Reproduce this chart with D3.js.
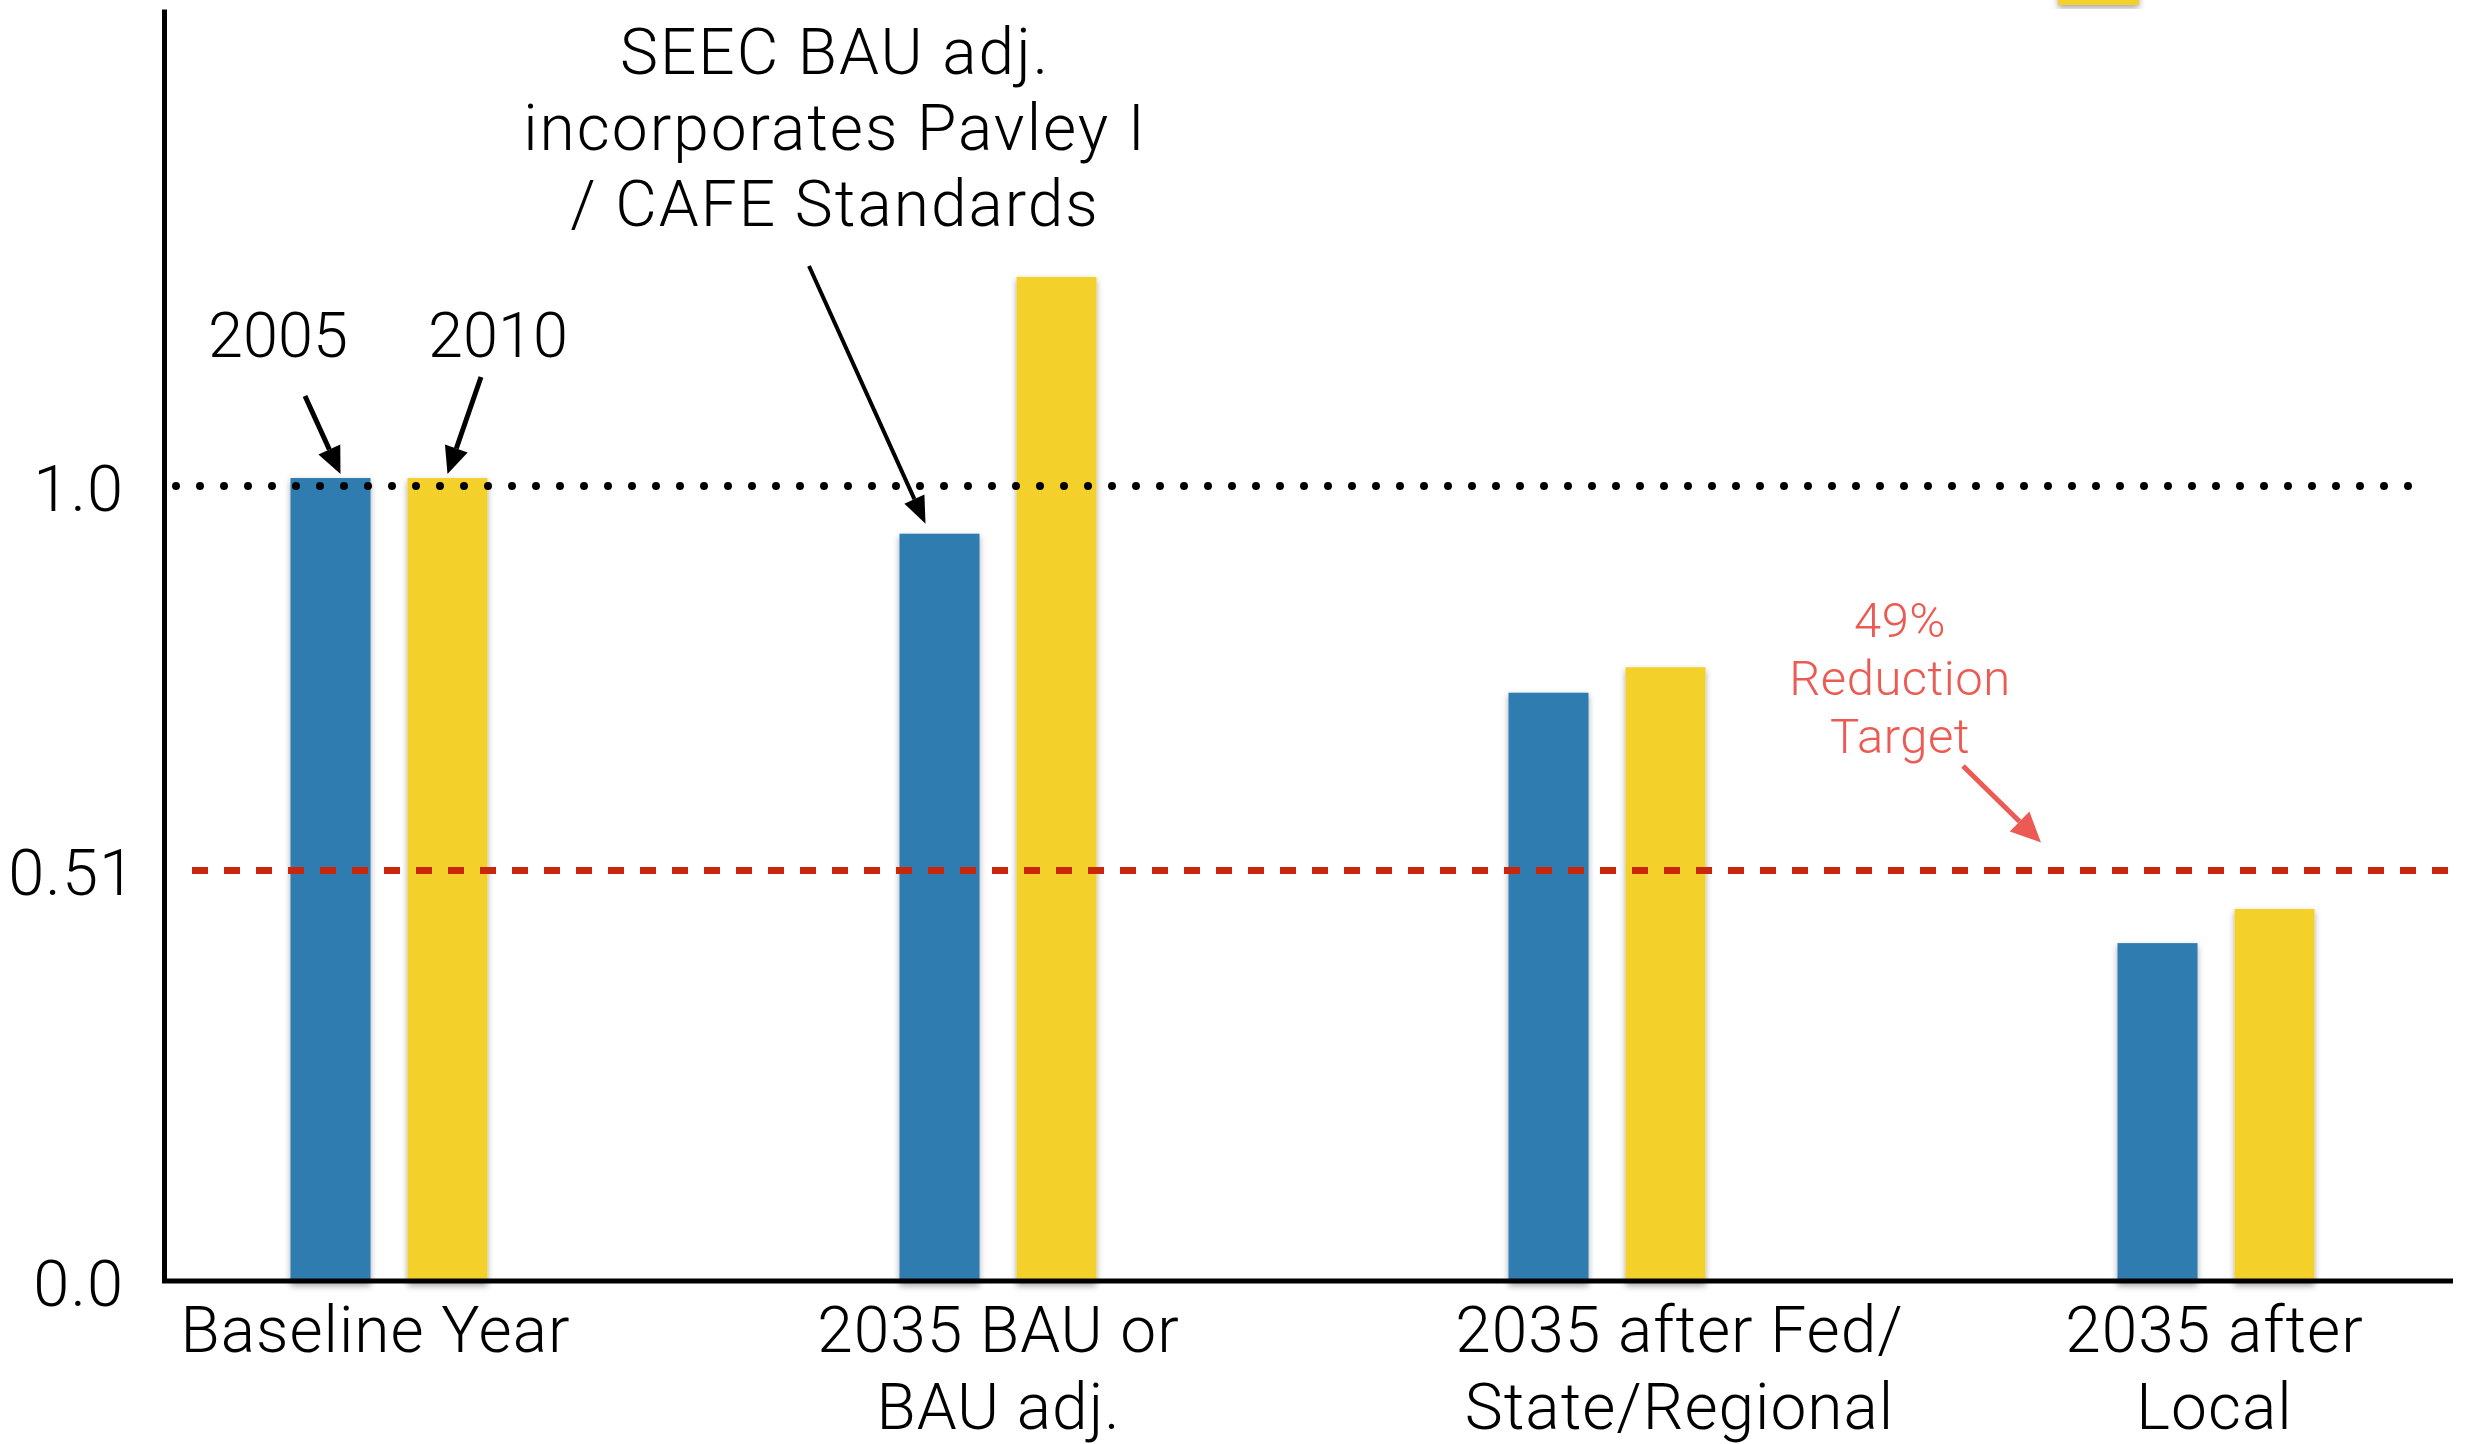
<!DOCTYPE html>
<html>
<head>
<meta charset="utf-8">
<script src="https://cdnjs.cloudflare.com/ajax/libs/d3/7.8.5/d3.min.js"></script>
<style>
	html, body { margin: 0; padding: 0; background: #ffffff; }
	svg { display: block; }
	text { font-family: 'Roboto', 'Liberation Sans', sans-serif; font-weight: 300; }
</style>
</head>
<body>
<svg width="2473" height="1444"></svg>
<script>

// categories along the x axis (one entry per line of the label)
var categories = ['Baseline Year', '2035 BAU or BAU adj.', '2035 after Fed/State/Regional', '2035 after Local'];
var categoryLines = [['Baseline Year'], ['2035 BAU or', 'BAU adj.'], ['2035 after Fed/', 'State/Regional'], ['2035 after', 'Local']];

// series
var series = ['2005', '2010'];
var values2005 = [1.01, 0.94, 0.74, 0.425];
var values2010 = [1.01, 1.263, 0.772, 0.468];

// y axis
var yTicks = [0, 0.51, 1.0];
var yTickLabels = ['0.0', '0.51', '1.0'];

// reference lines
var baselineLevel = 1.0;
var targetLevel = 0.51;

// annotation texts
var seecNote = ['SEEC BAU adj.', 'incorporates Pavley I', '/ CAFE Standards'];
var targetNote = ['49%', 'Reduction', 'Target'];

window.graph = {
	width: 2473,
	height: 1444,
	colors: { '2005': '#2e7bb0', '2010': '#f4d12a' },
	black: '#000000',
	red: '#c9260b',
	pink: '#ec5b53'
};

graph.make = function(){

	graph.svg = d3.select('svg');

	//shadow under the bars
	var f = graph.svg.append('defs').append('filter')
		.attr('id', 'shadow')
		.attr('x', '-20%').attr('y', '-5%')
		.attr('width', '140%').attr('height', '110%');
	f.append('feDropShadow')
		.attr('dx', 0).attr('dy', 3)
		.attr('stdDeviation', 3)
		.attr('flood-color', '#000')
		.attr('flood-opacity', 0.35);

	//scales
	graph.y = d3.scaleLinear().domain([0, 1.6]).range([1281, 9]);
	graph.x = d3.scalePoint().domain(categories).range([389, 2216]);
	graph.sub = d3.scaleBand().domain(series).range([-98.5, 98.5]).paddingInner(0.316);

	var rows = categories.map(function(c, i){
		return { cat: c, '2005': values2005[i], '2010': values2010[i] };
	});

	//bars
	var g = graph.svg.append('g').attr('class', 'bars');
	rows.forEach(function(d){
		series.forEach(function(s){
			g.append('rect')
				.attr('x', graph.x(d.cat) + graph.sub(s))
				.attr('y', graph.y(d[s]))
				.attr('width', graph.sub.bandwidth())
				.attr('height', graph.y(0) - graph.y(d[s]) + 2)
				.attr('fill', graph.colors[s])
				.attr('filter', 'url(#shadow)');
		});
	});

	//legend swatch, mostly cut off at the top
	graph.svg.append('rect')
		.attr('x', 2058).attr('y', -60)
		.attr('width', 81).attr('height', 65)
		.attr('fill', graph.colors['2010'])
		.attr('filter', 'url(#shadow)');

	//reference lines
	graph.svg.append('line')
		.attr('x1', 176).attr('x2', 2416)
		.attr('y1', graph.y(baselineLevel)).attr('y2', graph.y(baselineLevel))
		.attr('stroke', graph.black)
		.attr('stroke-width', 8)
		.attr('stroke-linecap', 'round')
		.attr('stroke-dasharray', '0 24');

	graph.svg.append('line')
		.attr('x1', 192).attr('x2', 2452)
		.attr('y1', graph.y(targetLevel) - 5).attr('y2', graph.y(targetLevel) - 5)
		.attr('stroke', graph.red)
		.attr('stroke-width', 7)
		.attr('stroke-dasharray', '16 16');

	//y axis
	var yAxis = d3.axisLeft(graph.y)
		.tickValues(yTicks)
		.tickFormat(function(d, i){ return yTickLabels[i]; })
		.tickSize(0)
		.tickSizeOuter(0)
		.tickPadding(40);

	var ya = graph.svg.append('g')
		.attr('transform', 'translate(164,0)')
		.call(yAxis);
	ya.select('.domain').attr('stroke', graph.black).attr('stroke-width', 5);
	ya.selectAll('text')
		.attr('fill', graph.black)
		.attr('font-size', 65)
		.attr('letter-spacing', 1)
		.attr('dy', function(d){ return d == targetLevel ? 19 : 24; })
		.attr('dx', function(d){ return d == targetLevel ? 12 : 0; });

	//x axis
	graph.svg.append('line')
		.attr('x1', 162).attr('x2', 2453)
		.attr('y1', graph.y(0)).attr('y2', graph.y(0))
		.attr('stroke', graph.black)
		.attr('stroke-width', 5);

	var tickNudge = [-14, 0, 72, -2];
	var xAxis = d3.axisBottom(graph.x).tickSize(0).tickPadding(0);
	var xa = graph.svg.append('g')
		.attr('transform', 'translate(0,' + graph.y(0) + ')')
		.call(xAxis);
	xa.select('.domain').remove();
	xa.selectAll('.tick text').each(function(d, i){
		var t = d3.select(this).text(null)
			.attr('fill', graph.black)
			.attr('font-size', 64)
			.attr('letter-spacing', 1)
			.attr('y', 0)
			.attr('dy', null);
		categoryLines[i].forEach(function(line, k){
			t.append('tspan')
				.attr('x', tickNudge[i])
				.attr('y', 71 + k * 77)
				.text(line);
		});
	});

	//annotations
	graph.note(['2005'], 278, 357, 0, graph.black, 63);
	graph.note(['2010'], 498, 357, 0, graph.black, 63);
	graph.note(seecNote, 835, 74, 76, graph.black, 64, 2);
	graph.note(targetNote, 1900, 637, 58, graph.pink, 49, 0.5);

	var bw = graph.sub.bandwidth();
	graph.arrow(305, 396, graph.x(categories[0]) + graph.sub('2005') + bw / 2 + 10, graph.y(values2005[0]) - 4, graph.black, 5, 27, 24);
	graph.arrow(481, 377, graph.x(categories[0]) + graph.sub('2010') + bw / 2, graph.y(values2010[0]) - 4, graph.black, 5, 27, 24);
	graph.arrow(809, 266, graph.x(categories[1]) + graph.sub('2005') + bw / 2 - 14, graph.y(values2005[1]) - 10, graph.black, 4, 27, 22);
	graph.arrow(1963, 766, 2041, graph.y(targetLevel) - 33, graph.pink, 5, 30, 28);
};

graph.note = function(lines, x, y, step, color, size, spacing){
	var t = graph.svg.append('text')
		.attr('text-anchor', 'middle')
		.attr('fill', color)
		.attr('font-size', size)
		.attr('letter-spacing', spacing || 0);
	lines.forEach(function(line, k){
		t.append('tspan').attr('x', x).attr('y', y + k * step).text(line);
	});
};

graph.arrow = function(x1, y1, x2, y2, color, w, len, head){
	var a = Math.atan2(y2 - y1, x2 - x1);
	var bx = x2 - len * Math.cos(a), by = y2 - len * Math.sin(a);
	var nx = -Math.sin(a) * head / 2, ny = Math.cos(a) * head / 2;

	graph.svg.append('line')
		.attr('x1', x1).attr('y1', y1)
		.attr('x2', bx).attr('y2', by)
		.attr('stroke', color)
		.attr('stroke-width', w);

	graph.svg.append('path')
		.attr('d', 'M' + x2 + ',' + y2 + 'L' + (bx + nx) + ',' + (by + ny) + 'L' + (bx - nx) + ',' + (by - ny) + 'Z')
		.attr('fill', color);
};

graph.make();
</script>
</body>
</html>
